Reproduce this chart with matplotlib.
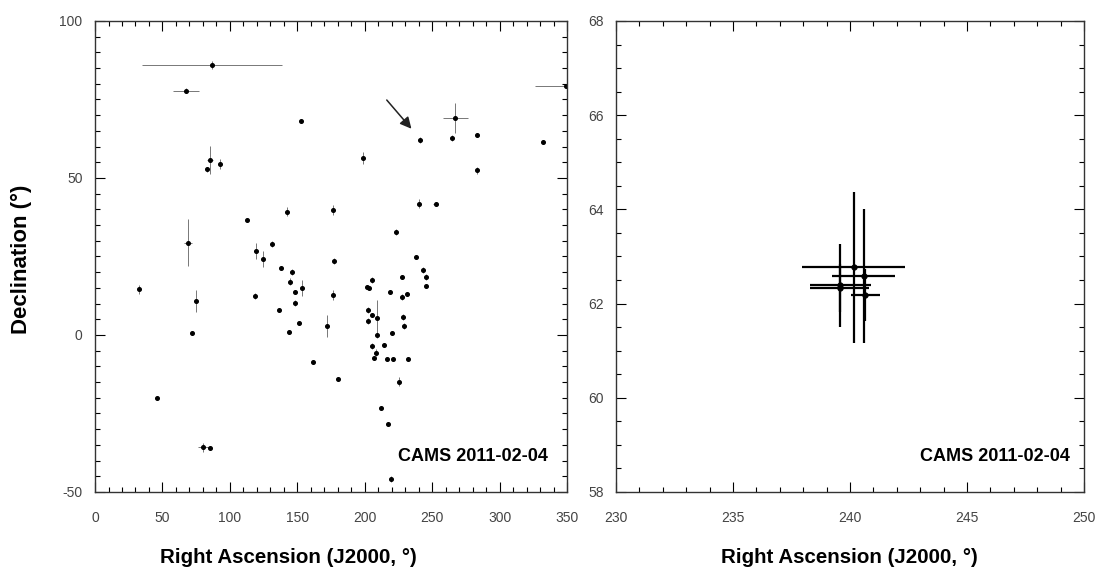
import numpy as np
import matplotlib
matplotlib.use("Agg")
import matplotlib.pyplot as plt
from matplotlib.ticker import MultipleLocator

plt.rcParams['font.family'] = ['Liberation Sans', 'DejaVu Sans']
plt.rcParams['axes.unicode_minus'] = False

# all radiants of the night (left panel)
ra_all = [86.7, 67.5, 153.0, 85.2, 82.8, 92.7, 240.9, 198.9, 267.3, 264.4,
          282.9, 282.9, 332.3, 349.0, 142.0, 112.4, 69.2, 131.5, 119.1, 124.3,
          137.9, 146.3, 144.6, 148.5, 153.7, 148.3, 136.6, 151.0, 143.8, 32.6,
          74.9, 72.1, 118.6, 172.2, 176.7, 240.4, 252.5, 223.1, 177.2, 238.0,
          243.4, 245.4, 245.4, 205.6, 201.9, 203.4, 227.3, 218.7, 227.3, 231.5,
          176.2, 202.6, 205.6, 209.3, 202.6, 228.6, 229.1, 208.8, 220.4, 205.6,
          214.5, 208.3, 207.1, 216.2, 220.7, 231.8, 179.9, 225.4, 212.0, 217.4,
          219.4, 161.4, 45.7, 80.3, 85.0]
dec_all = [86.0, 77.8, 68.2, 55.7, 52.8, 54.5, 62.1, 56.3, 69.2, 62.8,
           63.7, 52.4, 61.6, 79.3, 39.3, 36.6, 29.4, 29.0, 26.8, 24.1,
           21.4, 20.0, 17.0, 13.8, 14.9, 10.3, 8.0, 3.7, 1.1, 14.5,
           10.9, 0.5, 12.5, 3.0, 39.8, 41.8, 41.8, 32.9, 23.6, 24.9,
           20.7, 18.4, 15.6, 17.5, 15.4, 14.9, 18.4, 13.8, 12.2, 13.1,
           12.7, 8.0, 6.3, 5.3, 4.5, 5.8, 2.9, 0.0, 0.5, -3.5,
           -3.2, -5.6, -7.2, -7.8, -7.5, -7.8, -14.0, -14.9, -23.2, -28.3,
           -45.9, -8.7, -20.2, -35.8, -36.0]
ra_all_err = [52, 9.3, 1.5, 2, 1.5, 1, 1.5, 1, 9, 1.5,
              1, 0.5, 0.5, 23, 1, 0.5, 3, 1.5, 1, 1,
              1, 1, 0.5, 1, 1, 0.5, 1, 1.5, 1.5, 1,
              1, 1, 1, 1, 1, 1, 1.5, 1, 1, 1.5,
              1, 1, 0.5, 0.5, 1, 0.5, 0.5, 1.5, 1, 1,
              1, 1, 1, 0.5, 1, 1, 1, 1, 1.5, 0.5,
              1.5, 1, 1, 1, 1.5, 1, 1, 1, 1, 0.5,
              0.5, 1, 1, 4, 1.5]
dec_all_err = [1.3, 0.8, 0.5, 4.5, 0.8, 1.5, 1, 2, 4.8, 1,
               0.5, 1, 0.5, 0.5, 1.5, 0.5, 7.4, 1, 2.5, 2.5,
               0.5, 1, 1, 0.5, 2.5, 1, 0.5, 0.5, 0.5, 1.5,
               3.5, 0.5, 1, 3.5, 1.5, 1.5, 0.5, 1, 1, 0.5,
               1, 1, 0.5, 1, 0.5, 0.5, 0.5, 0.5, 1, 0.5,
               1.5, 1, 0.5, 6, 1, 1, 1, 1, 0.5, 1,
               0.5, 1, 0.5, 0.5, 0.5, 0.5, 0.5, 1.5, 0.5, 0.5,
               1, 0.5, 0.5, 1.5, 0.5]

# zoom on the shower radiant (right panel)
ra_zoom = [240.16, 240.58, 239.59, 239.55, 240.65]
dec_zoom = [62.77, 62.59, 62.39, 62.33, 62.18]
ra_zoom_err = [2.2, 1.33, 1.3, 1.25, 0.62]
dec_zoom_err = [1.6, 1.42, 0.88, 0.5, 0.55]

label_txt = "CAMS 2011-02-04"
xlab = "Right Ascension (J2000, °)"
ylab = "Declination (°)"

fig = plt.figure(figsize=(11.1, 5.67), dpi=100)
ax1 = fig.add_axes([0.0856, 0.1323, 0.4252, 0.8307])
ax2 = fig.add_axes([0.5550, 0.1323, 0.4216, 0.8307])

ax1.errorbar(ra_all, dec_all, xerr=ra_all_err, yerr=dec_all_err, fmt='o',
             ms=2.6, color='black', ecolor='#777777', elinewidth=0.7, capsize=0)
ax1.annotate("", xy=(236, 65), xytext=(215, 75.5),
             arrowprops=dict(arrowstyle='-|>', color='#222222', lw=1.1,
                             mutation_scale=17))
ax1.set_xlim(0, 350)
ax1.set_ylim(-50, 100)
ax1.xaxis.set_major_locator(MultipleLocator(50))
ax1.xaxis.set_minor_locator(MultipleLocator(10))
ax1.yaxis.set_major_locator(MultipleLocator(50))
ax1.yaxis.set_minor_locator(MultipleLocator(5))
ax1.set_xlabel(xlab, fontsize=14.8, fontweight='bold')
ax1.xaxis.set_label_coords(0.409, -0.118)
ax1.set_ylabel(ylab, fontsize=16, fontweight='bold')
ax1.yaxis.set_label_coords(-0.133, 0.495)
ax1.text(0.96, 0.076, label_txt, transform=ax1.transAxes, ha='right',
         va='center', fontsize=13, fontweight='bold')

ax2.errorbar(ra_zoom, dec_zoom, xerr=ra_zoom_err, yerr=dec_zoom_err, fmt='o',
             ms=3.5, color='black', ecolor='black', elinewidth=1.6, capsize=0)
ax2.set_xlim(230, 250)
ax2.set_ylim(58, 68)
ax2.xaxis.set_major_locator(MultipleLocator(5))
ax2.xaxis.set_minor_locator(MultipleLocator(1))
ax2.yaxis.set_major_locator(MultipleLocator(2))
ax2.yaxis.set_minor_locator(MultipleLocator(0.5))
ax2.set_xlabel(xlab, fontsize=14.8, fontweight='bold')
ax2.xaxis.set_label_coords(0.498, -0.118)
ax2.text(0.97, 0.076, label_txt, transform=ax2.transAxes, ha='right',
         va='center', fontsize=13, fontweight='bold')

for ax in (ax1, ax2):
    ax.tick_params(which='both', direction='in', top=True, right=True,
                   labelsize=10, labelcolor='#444444', width=0.8)
    ax.tick_params(which='major', length=7)
    ax.tick_params(which='minor', length=3.5)
    ax.tick_params(axis='x', which='major', pad=14)
    ax.tick_params(axis='y', which='major', pad=9)
    for s in ax.spines.values():
        s.set_linewidth(1.0)
        s.set_color('#333333')

fig.savefig("out.png", dpi=100)
